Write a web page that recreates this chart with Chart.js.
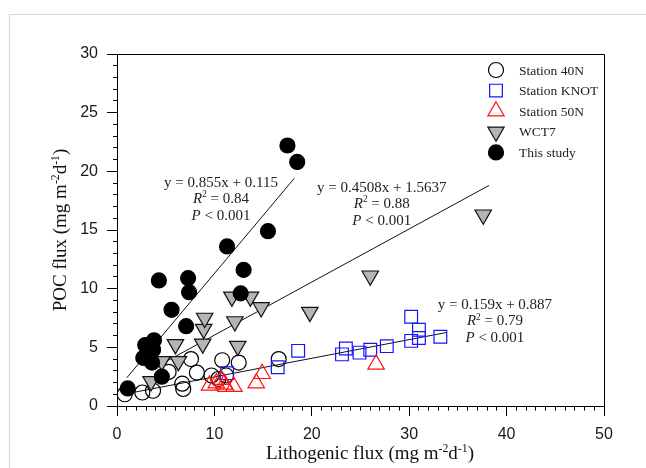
<!DOCTYPE html>
<html>
<head>
<meta charset="utf-8">
<script src="https://cdn.jsdelivr.net/npm/chart.js@4.4.1/dist/chart.umd.min.js"></script>
<style>
  html, body { margin: 0; padding: 0; background: #fff; }
</style>
</head>
<body>
<canvas id="pocChart" width="646" height="468"></canvas>
<script>
// values, lithogenic flux (x) vs POC flux (y), mg m-2 d-1
const studyX = [1.1, 2.7, 2.9, 3.6, 3.7, 3.8, 4.6, 4.3, 5.6, 7.1, 7.3, 7.4, 11.3, 12.7, 13.0, 15.5, 17.5, 18.5];
const studyY = [1.5, 4.1, 5.2, 3.7, 4.8, 5.6, 2.5, 10.7, 8.2, 6.8, 10.9, 9.7, 13.6, 9.6, 11.6, 14.9, 22.2, 20.8];

const st40nX = [0.8, 2.6, 3.7, 5.3, 6.7, 6.8, 7.6, 8.2, 9.7, 10.4, 10.8, 11.2, 12.5, 16.6];
const st40nY = [1.0, 1.15, 1.3, 2.9, 1.9, 1.45, 4.0, 2.85, 2.6, 2.3, 3.9, 2.6, 3.7, 4.0];

const knotX = [11.3, 16.5, 18.6, 23.1, 23.5, 24.9, 26.0, 27.7, 30.2, 30.2, 31.0, 31.0, 33.2];
const knotY = [2.8, 3.3, 4.7, 4.4, 4.9, 4.55, 4.8, 5.1, 7.6, 5.55, 6.5, 5.8, 5.9];

const st50nX = [9.5, 10.2, 10.7, 11.0, 11.2, 12.0, 14.3, 14.9, 26.6];
const st50nY = [1.75, 1.95, 2.25, 1.85, 1.65, 1.65, 1.95, 2.75, 3.55];

const wct7X = [3.5, 4.6, 6.0, 6.3, 8.8, 8.9, 9.0, 11.8, 12.1, 12.4, 13.7, 14.8, 19.8, 26.0, 37.6];
const wct7Y = [2.1, 3.8, 5.25, 3.8, 5.3, 6.55, 7.5, 9.3, 7.2, 5.1, 9.3, 8.4, 8.0, 11.1, 16.3];

// fitted lines, end points as drawn
const fitStudyX = [1.0, 18.2];
const fitStudyY = [2.4, 19.4];
const fitWctX = [3.5, 38.2];
const fitWctY = [3.1, 18.8];
const fitStnX = [1.2, 33.8];
const fitStnY = [1.08, 6.26];

const xTicks = [0, 10, 20, 30, 40, 50];
const yTicks = [0, 5, 10, 15, 20, 25, 30];

const legendNames = ['Station 40N', 'Station KNOT', 'Station 50N', 'WCT7', 'This study'];

const eqStudy = ['y = 0.855x + 0.115', '0.84', '0.001'];
const eqWct = ['y = 0.4508x + 1.5637', '0.88', '0.001'];
const eqStn = ['y = 0.159x + 0.887', '0.79', '0.001'];

const pts = (xs, ys) => xs.map((v, i) => ({ x: v, y: ys[i] }));

const serif = "'Liberation Serif', 'Times New Roman', serif";
const sans = "'Liberation Sans', Arial, sans-serif";

// marker styles (also used by the legend)
const styles = [
  { pointStyle: 'circle', radius: 7.5, rotation: 0, fill: 'rgba(0,0,0,0)', stroke: '#000' },
  { pointStyle: 'rect', radius: 9, rotation: 0, fill: 'rgba(0,0,0,0)', stroke: 'rgb(20,20,255)' },
  { pointStyle: 'triangle', radius: 9.5, rotation: 0, fill: 'rgba(0,0,0,0)', stroke: 'rgb(255,20,20)' },
  { pointStyle: 'triangle', radius: 9.5, rotation: 180, fill: '#b4b4b4', stroke: '#111' },
  { pointStyle: 'circle', radius: 7.5, rotation: 0, fill: '#000', stroke: '#000' }
];

const scatterSet = (label, data, s) => ({
  label: label,
  data: data,
  pointStyle: s.pointStyle,
  pointRadius: s.radius,
  pointRotation: s.rotation,
  pointBackgroundColor: s.fill,
  pointBorderColor: s.stroke,
  pointBorderWidth: 1.2,
  showLine: false
});

const fitSet = (data) => ({
  data: data,
  showLine: true,
  pointRadius: 0,
  borderColor: '#111',
  borderWidth: 1,
  fill: false
});

const align = (v) => Math.round(v - 0.5) + 0.5;

function richText(ctx, parts, cx, baseY, size, color) {
  const spans = parts.map(p => {
    const s = p.sup ? size * 0.62 : size;
    const font = (p.it ? 'italic ' : '') + s + 'px ' + serif;
    ctx.font = font;
    return { t: p.t, font: font, w: ctx.measureText(p.t).width, dy: p.sup ? -size * 0.38 : 0 };
  });
  const total = spans.reduce((a, s) => a + s.w, 0);
  let x = cx - total / 2;
  ctx.fillStyle = color;
  ctx.textAlign = 'left';
  ctx.textBaseline = 'alphabetic';
  spans.forEach(s => {
    ctx.font = s.font;
    ctx.fillText(s.t, x, baseY + s.dy);
    x += s.w;
  });
}

function drawEquation(ctx, x, y, eq, cx, cy) {
  const px = x.getPixelForValue(cx);
  const py = y.getPixelForValue(cy);
  richText(ctx, [{ t: eq[0] }], px, py + 5, 15, '#222');
  richText(ctx, [{ t: 'R', it: true }, { t: '2', sup: true }, { t: ' = ' + eq[1] }], px, py + 21.5, 15, '#222');
  richText(ctx, [{ t: 'P', it: true }, { t: ' < ' + eq[2] }], px, py + 38, 15, '#222');
}

const unitParts = [{ t: ' (mg m' }, { t: '-2', sup: true }, { t: 'd' }, { t: '-1', sup: true }, { t: ')' }];

const decorations = {
  id: 'decorations',
  afterDraw(chart) {
    const { ctx, chartArea: a, scales: { x, y } } = chart;
    ctx.save();
    // pale outer frame of the figure
    ctx.strokeStyle = '#d6d6d6';
    ctx.lineWidth = 1;
    ctx.beginPath();
    ctx.moveTo(9.5, 468);
    ctx.lineTo(9.5, 14.5);
    ctx.lineTo(646, 14.5);
    ctx.stroke();

    // top and right sides of the plot box
    ctx.strokeStyle = '#000';
    ctx.beginPath();
    ctx.moveTo(align(a.left), align(a.top));
    ctx.lineTo(align(a.right), align(a.top));
    ctx.lineTo(align(a.right), align(a.bottom));
    ctx.stroke();

    // minor ticks
    ctx.beginPath();
    for (let v = 1; v < 50; v++) {
      if (v % 10 === 0) continue;
      const px = align(x.getPixelForValue(v));
      ctx.moveTo(px, align(a.bottom));
      ctx.lineTo(px, align(a.bottom) + 4);
    }
    for (let v = 1; v < 30; v++) {
      if (v % 5 === 0) continue;
      const py = align(y.getPixelForValue(v));
      ctx.moveTo(align(a.left), py);
      ctx.lineTo(align(a.left) - 4.5, py);
    }
    ctx.stroke();

    // equations
    drawEquation(ctx, x, y, eqStudy, 10.68, 19.12);
    drawEquation(ctx, x, y, eqWct, 27.18, 18.7);
    drawEquation(ctx, x, y, eqStn, 38.8, 8.7);

    // legend
    const lx = 496, tx = 519;
    legendNames.forEach((name, i) => {
      const ly = 70 + i * 20.6;
      const s = styles[i];
      ctx.fillStyle = s.fill;
      ctx.strokeStyle = s.stroke;
      ctx.lineWidth = 1.2;
      Chart.helpers.drawPoint(ctx, { pointStyle: s.pointStyle, radius: s.radius, rotation: s.rotation, borderWidth: 1.2 }, lx, ly);
      ctx.fillStyle = '#222';
      ctx.font = '13.5px ' + serif;
      ctx.textAlign = 'left';
      ctx.textBaseline = 'middle';
      ctx.fillText(name, tx, ly + 1);
    });

    // axis titles
    richText(ctx, [{ t: 'Lithogenic flux' }].concat(unitParts), 370, 459, 19, '#111');
    ctx.translate(66, 230);
    ctx.rotate(-Math.PI / 2);
    richText(ctx, [{ t: 'POC flux' }].concat(unitParts), 0, 0, 19, '#111');
    ctx.restore();
  }
};

new Chart(document.getElementById('pocChart'), {
  type: 'scatter',
  data: {
    datasets: [
      scatterSet(legendNames[4], pts(studyX, studyY), styles[4]),
      scatterSet(legendNames[3], pts(wct7X, wct7Y), styles[3]),
      scatterSet(legendNames[2], pts(st50nX, st50nY), styles[2]),
      scatterSet(legendNames[1], pts(knotX, knotY), styles[1]),
      scatterSet(legendNames[0], pts(st40nX, st40nY), styles[0]),
      fitSet(pts(fitStudyX, fitStudyY)),
      fitSet(pts(fitWctX, fitWctY)),
      fitSet(pts(fitStnX, fitStnY))
    ]
  },
  options: {
    responsive: false,
    devicePixelRatio: 1,
    animation: false,
    events: [],
    layout: { padding: { top: 54, right: 42, left: 0, bottom: 0 } },
    plugins: {
      legend: { display: false },
      tooltip: { enabled: false },
      title: { display: false }
    },
    scales: {
      x: {
        type: 'linear',
        min: 0,
        max: 50,
        afterBuildTicks: (scale) => { scale.ticks = xTicks.map(v => ({ value: v })); },
        afterFit: (scale) => { scale.height = 62; },
        ticks: { font: { family: sans, size: 16 }, color: '#1a1a1a', padding: 9, maxRotation: 0 },
        grid: { drawOnChartArea: false, drawTicks: true, tickLength: 10, tickColor: '#000', tickWidth: 1 },
        border: { color: '#000', width: 1 }
      },
      y: {
        type: 'linear',
        min: 0,
        max: 30,
        afterBuildTicks: (scale) => { scale.ticks = yTicks.map(v => ({ value: v })); },
        afterFit: (scale) => { scale.width = 117; },
        ticks: { font: { family: sans, size: 16 }, color: '#1a1a1a', padding: 9 },
        grid: { drawOnChartArea: false, drawTicks: true, tickLength: 10, tickColor: '#000', tickWidth: 1 },
        border: { color: '#000', width: 1 }
      }
    }
  },
  plugins: [decorations]
});
</script>
</body>
</html>
